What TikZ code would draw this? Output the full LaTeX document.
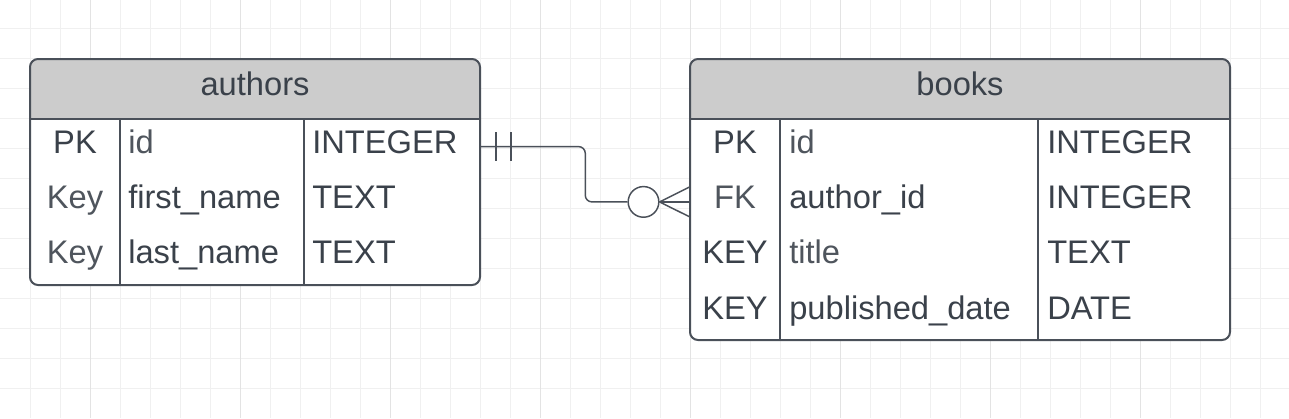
\documentclass[tikz,border=0pt]{standalone}
\usepackage{fontspec}
\setmainfont{Liberation Sans}
\definecolor{ink}{HTML}{3A414A}
\definecolor{inklight}{HTML}{4F555D}
\definecolor{framecol}{HTML}{4A5059}
\definecolor{hdrgray}{HTML}{CCCCCC}
\definecolor{gridcol}{HTML}{F0F0F0}
\definecolor{griddark}{HTML}{E3E3E3}
\begin{document}
\begin{tikzpicture}[x=0.75pt,y=-0.75pt,
font=\fontsize{24.5}{29}\selectfont, text=ink,
gridline/.style ={draw=gridcol, line width=0.75pt},
gridbold/.style ={draw=griddark, line width=0.75pt},
frame/.style ={draw=framecol, line width=1.5pt},
divider/.style ={draw=framecol, line width=1.1pt},
link/.style ={draw=framecol, line width=1.1pt},
title/.style ={anchor=base, inner sep=0pt},
keycell/.style ={anchor=base, inner sep=0pt},
fieldcell/.style ={anchor=base west, inner sep=0pt},
row/.style ={rectangle, draw=none, inner sep=0pt, minimum height=41.4pt},
crowcircle/.style ={circle, draw=framecol, fill=white, line width=1.1pt,
  inner sep=0pt, minimum size=23pt}
]
% page and grid
\fill[white] (0,0) rectangle (1289,418);
\useasboundingbox (0,0) rectangle (1289,418);
\foreach \gx in {30,60,...,1260}
  \draw[gridline] (\gx,0) -- (\gx,418);
\foreach \gy in {28,58,...,388}
  \draw[gridline] (0,\gy) -- (1289,\gy);
\foreach \gx in {90,240,...,1140}
  \draw[gridbold] (\gx,0) -- (\gx,418);

% authors table
\fill[white, rounded corners=6pt] (30,59) rectangle (480,285);
\fill[hdrgray, rounded corners=6pt] (30,59) rectangle (480,119);
\fill[hdrgray] (30,100) rectangle (480,119);
\draw[frame] (30,119) -- (480,119);
\draw[divider] (120,119) -- (120,285);
\draw[divider] (304,119) -- (304,285);
\draw[frame, rounded corners=6pt] (30,59) rectangle (480,285);
\node[title] (a-title) at (255,95) {authors};
\node[row, minimum width=337.5pt] (a-r1) at (255,146.6) {};
\node[row, minimum width=337.5pt] (a-r2) at (255,201.9) {};
\node[row, minimum width=337.5pt] (a-r3) at (255,257.1) {};
\node[keycell] (a-k1) at (75,153.5) {PK};
\node[keycell, text=inklight] (a-k2) at (75,208.5) {Key};
\node[keycell, text=inklight] (a-k3) at (75,263.5) {Key};
\node[fieldcell, text=inklight] (a-n1) at (128,153.5) {id};
\node[fieldcell] (a-n2) at (128,208.5) {first\_name};
\node[fieldcell] (a-n3) at (128,263.5) {last\_name};
\node[fieldcell] (a-t1) at (312,153.5) {INTEGER};
\node[fieldcell] (a-t2) at (312,208.5) {TEXT};
\node[fieldcell] (a-t3) at (312,263.5) {TEXT};

% books table
\fill[white, rounded corners=6pt] (690,59) rectangle (1230,340);
\fill[hdrgray, rounded corners=6pt] (690,59) rectangle (1230,119);
\fill[hdrgray] (690,100) rectangle (1230,119);
\draw[frame] (690,119) -- (1230,119);
\draw[divider] (780,119) -- (780,340);
\draw[divider] (1038,119) -- (1038,340);
\draw[frame, rounded corners=6pt] (690,59) rectangle (1230,340);
\node[title] (b-title) at (960,95) {books};
\node[row, minimum width=405pt] (b-r1) at (960,146.6) {};
\node[row, minimum width=405pt] (b-r2) at (960,201.9) {};
\node[row, minimum width=405pt] (b-r3) at (960,257.1) {};
\node[row, minimum width=405pt] (b-r4) at (960,312.4) {};
\node[keycell] (b-k1) at (735,153.5) {PK};
\node[keycell, text=inklight] (b-k2) at (735,208.5) {FK};
\node[keycell] (b-k3) at (735,263.5) {KEY};
\node[keycell] (b-k4) at (735,319) {KEY};
\node[fieldcell, text=inklight] (b-n1) at (789,153.5) {id};
\node[fieldcell] (b-n2) at (789,208.5) {author\_id};
\node[fieldcell, text=inklight] (b-n3) at (789,263.5) {title};
\node[fieldcell] (b-n4) at (789,319) {published\_date};
\node[fieldcell] (b-t1) at (1047,153.5) {INTEGER};
\node[fieldcell] (b-t2) at (1047,208.5) {INTEGER};
\node[fieldcell] (b-t3) at (1047,263.5) {TEXT};
\node[fieldcell] (b-t4) at (1047,319) {DATE};

% relation: one author, many books
\node[crowcircle] (many) at (643.5,201.9) {};
\draw[link, rounded corners=5pt] (a-r1.east) -- ++(105,0) |- (many.west);
\draw[link] (a-r1.east) ++(15.5,-14.5) -- ++(0,29);
\draw[link] (a-r1.east) ++(30.5,-14.5) -- ++(0,29);
\draw[link] (many.east) -- (b-r2.west);
\draw[link] (many.east) -- ([yshift=11.25pt]b-r2.west);
\draw[link] (many.east) -- ([yshift=-11.25pt]b-r2.west);
\end{tikzpicture}
\end{document}
